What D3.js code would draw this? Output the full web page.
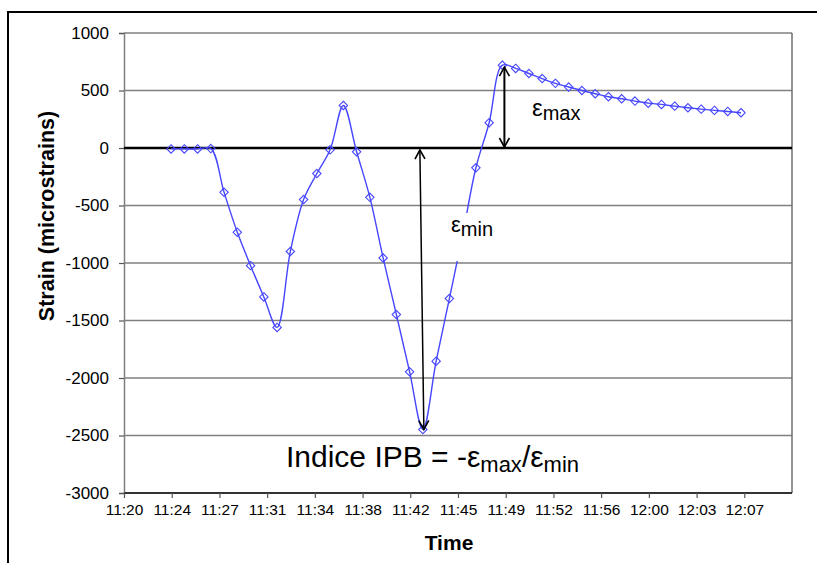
<!DOCTYPE html>
<html>
<head>
<meta charset="utf-8">
<script src="https://cdn.jsdelivr.net/npm/d3@7"></script>
<style>
body { margin: 0; background: #fff; }
svg { display: block; font-family: "Liberation Sans", Arial, sans-serif; }
</style>
</head>
<body>
<script>
// strain gauge readings, roughly one per minute
var times = ["11:23:33", "11:24:33", "11:25:33", "11:26:33", "11:27:33", "11:28:33", "11:29:33", "11:30:33",
  "11:31:33", "11:32:33", "11:33:33", "11:34:33", "11:35:33", "11:36:33", "11:37:33", "11:38:33",
  "11:39:33", "11:40:33", "11:41:33", "11:42:33", "11:43:33", "11:44:33", "11:45:33", "11:46:33",
  "11:47:33", "11:48:33", "11:49:33", "11:50:33", "11:51:33", "11:52:33", "11:53:33", "11:54:33",
  "11:55:33", "11:56:33", "11:57:33", "11:58:33", "11:59:33", "12:00:33", "12:01:33", "12:02:33",
  "12:03:33", "12:04:33", "12:05:33", "12:06:33"];
var strain = [-8, -8, -8, -5, -385, -733, -1023, -1295, -1560, -900, -448, -222, -16, 370, -33, -429,
  -956, -1448, -1946, -2448, -1854, -1309, -757, -172, 220, 720, 692, 648, 604, 562, 530, 500,
  472, 446, 428, 408, 390, 379, 364, 350, 338, 327, 318, 307];

var xTickLabels = ["11:20", "11:24", "11:27", "11:31", "11:34", "11:38", "11:42", "11:45",
  "11:49", "11:52", "11:56", "12:00", "12:03", "12:07"];
var yTicks = [-3000, -2500, -2000, -1500, -1000, -500, 0, 500, 1000];

var w = 817, h = 563;
var pLeft = 124, pRight = 792, pTop = 33, pBottom = 493;

// minutes after 11:00
function minutes(s) {
  var p = s.split(":");
  return (+p[0] - 11) * 60 + (+p[1]) + (+p[2] || 0) / 60;
}

var data = times.map(function(t, i) { return { t: minutes(t), v: strain[i] }; });

var axisStart = minutes("11:20"), majorUnit = 3.6; // excel major unit 0.0025 day
var xScale = d3.scaleLinear()
  .domain([axisStart, axisStart + xTickLabels.length * majorUnit])
  .range([pLeft, pRight]);
var yScale = d3.scaleLinear().domain([-3000, 1000]).range([pBottom, pTop]);

var svg = d3.select("body").append("svg")
  .attr("width", w).attr("height", h);

// outer frame
svg.append("rect")
  .attr("x", 8).attr("y", 12).attr("width", 900).attr("height", 700)
  .attr("fill", "#fff").attr("stroke", "#000").attr("stroke-width", 2);

// gridlines
svg.append("g")
  .selectAll("line")
  .data(yTicks.filter(function(d) { return d != 0 && d != -3000; }))
  .enter().append("line")
  .attr("x1", pLeft).attr("x2", pRight)
  .attr("y1", function(d) { return yScale(d); })
  .attr("y2", function(d) { return yScale(d); })
  .attr("stroke", "#7f7f7f").attr("stroke-width", 1.5);

// right border
svg.append("line")
  .attr("x1", pRight).attr("x2", pRight).attr("y1", pTop).attr("y2", pBottom)
  .attr("stroke", "#6f6f6f").attr("stroke-width", 1.5);

// y axis
var yAxis = d3.axisLeft(yScale).tickValues(yTicks).tickSize(5)
  .tickFormat(function(d) { return String(d); });
var gy = svg.append("g")
  .attr("transform", "translate(" + pLeft + ",0)")
  .call(yAxis);
gy.select(".domain").attr("stroke", "#7f7f7f").attr("stroke-width", 1.5);
gy.selectAll(".tick line").attr("stroke", "#555").attr("stroke-width", 1.2);
gy.selectAll(".tick text").attr("x", -15).attr("fill", "#000")
  .style("font-size", "17px").style("font-family", "Liberation Sans, Arial, sans-serif");

// x axis
var xTickVals = xTickLabels.map(function(d, i) { return axisStart + i * majorUnit; });
var xAxis = d3.axisBottom(xScale).tickValues(xTickVals).tickSize(5)
  .tickFormat(function(d, i) { return xTickLabels[i]; });
var gx = svg.append("g")
  .attr("transform", "translate(0," + pBottom + ")")
  .call(xAxis);
gx.select(".domain").attr("stroke", "#333").attr("stroke-width", 2).attr("d", "M" + pLeft + ",0H" + pRight);
gx.selectAll(".tick line").attr("stroke", "#555").attr("stroke-width", 1.2);
gx.selectAll(".tick text").attr("y", 11).attr("fill", "#000")
  .style("font-size", "15.5px").style("font-family", "Liberation Sans, Arial, sans-serif");

// zero line
svg.append("line")
  .attr("x1", pLeft).attr("x2", pRight)
  .attr("y1", yScale(0)).attr("y2", yScale(0))
  .attr("stroke", "#000").attr("stroke-width", 2.3);

// axis titles
svg.append("text")
  .attr("x", 449).attr("y", 550)
  .attr("text-anchor", "middle")
  .style("font-weight", "bold").style("font-size", "21px")
  .text("Time");

svg.append("text")
  .attr("transform", "translate(54,216) rotate(-90)")
  .attr("text-anchor", "middle")
  .style("font-weight", "bold").style("font-size", "21.5px")
  .text("Strain (microstrains)");

// series
var blue = "#4646ff";
var line = d3.line()
  .x(function(d) { return xScale(d.t); })
  .y(function(d) { return yScale(d.v); })
  .curve(d3.curveCatmullRom);

svg.append("path")
  .datum(data)
  .attr("d", line)
  .attr("fill", "none")
  .attr("stroke", blue)
  .attr("stroke-width", 1.4);

svg.append("g")
  .selectAll("path")
  .data(data)
  .enter().append("path")
  .attr("d", "M0,-4.2L4.2,0L0,4.2L-4.2,0Z")
  .attr("transform", function(d) { return "translate(" + xScale(d.t) + "," + yScale(d.v) + ")"; })
  .attr("fill", "none")
  .attr("stroke", blue)
  .attr("stroke-width", 1.1);

// annotations
var defs = svg.append("defs");
defs.append("marker")
  .attr("id", "arr")
  .attr("viewBox", "-12 -7 14 14")
  .attr("refX", 0).attr("refY", 0)
  .attr("markerWidth", 14).attr("markerHeight", 14)
  .attr("markerUnits", "userSpaceOnUse")
  .attr("orient", "auto-start-reverse")
  .append("path")
  .attr("d", "M-9,-5L0,0L-9,5")
  .attr("fill", "none").attr("stroke", "#000").attr("stroke-width", 1.6);

var maxPt = data[d3.maxIndex(data, function(d) { return d.v; })];
var minPt = data[d3.minIndex(data, function(d) { return d.v; })];

svg.append("line")
  .attr("x1", xScale(maxPt.t) + 2).attr("x2", xScale(maxPt.t) + 2)
  .attr("y1", yScale(0) - 1).attr("y2", yScale(maxPt.v) + 2)
  .attr("stroke", "#000").attr("stroke-width", 2)
  .attr("marker-start", "url(#arr)").attr("marker-end", "url(#arr)");

svg.append("line")
  .attr("x1", xScale(minPt.t) - 3).attr("x2", xScale(minPt.t) + 1)
  .attr("y1", yScale(0) + 2).attr("y2", yScale(minPt.v))
  .attr("stroke", "#000").attr("stroke-width", 1.5)
  .attr("marker-start", "url(#arr)").attr("marker-end", "url(#arr)");

// epsilon labels
var lmax = svg.append("text").attr("x", 532).attr("y", 116);
lmax.append("tspan").style("font-size", "24px").text("ε");
lmax.append("tspan").style("font-size", "20px").attr("dy", 4).text("max");

svg.append("rect")
  .attr("x", 446).attr("y", 213).attr("width", 54).attr("height", 48)
  .attr("fill", "#fff");
var lmin = svg.append("text").attr("x", 451).attr("y", 232);
lmin.append("tspan").style("font-size", "22px").text("ε");
lmin.append("tspan").style("font-size", "20px").attr("dy", 4).text("min");

var f = svg.append("text").attr("x", 286).attr("y", 467).style("font-size", "30px");
f.append("tspan").text("Indice IPB = -");
f.append("tspan").text("ε");
f.append("tspan").style("font-size", "22px").attr("dy", 5).text("max");
f.append("tspan").attr("dy", -5).text("/");
f.append("tspan").text("ε");
f.append("tspan").style("font-size", "22px").attr("dy", 5).text("min");
</script>
</body>
</html>
